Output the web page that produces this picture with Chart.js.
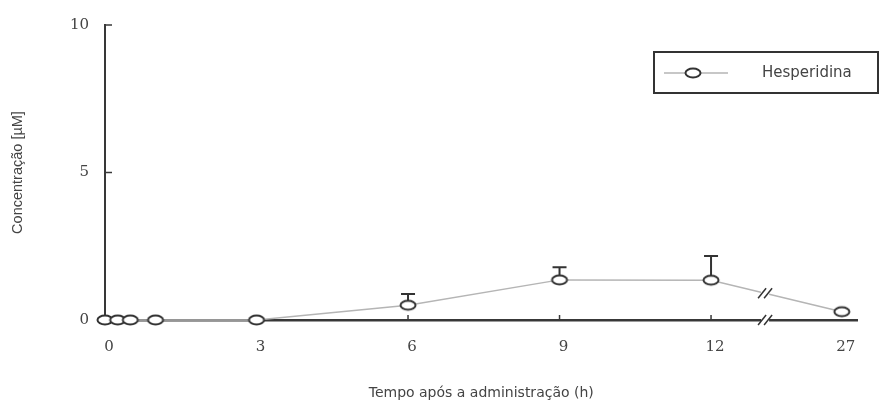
<!DOCTYPE html>
<html>
<head>
<meta charset="utf-8">
<script src="https://cdn.jsdelivr.net/npm/chart.js@4.4.1/dist/chart.umd.min.js"></script>
<style>
  html, body { margin: 0; padding: 0; background: #fff; }
  #wrap { width: 881px; height: 412px; }
</style>
</head>
<body>
<div id="wrap"><canvas id="hespChart"></canvas></div>
<script>
const timesH = [0, 0.25, 0.5, 1, 3, 6, 9, 12, 27];
const concentration = [0, 0, 0, 0, 0, 0.5, 1.36, 1.35, 0.28];
const errorUp = [0, 0, 0, 0, 0, 0.38, 0.43, 0.82, 0];
const xTickHours = [0, 3, 6, 9, 12, 27];
const yTicks = [0, 5, 10];
const seriesLabel = "Hesperidina";

// broken x axis: everything after 12 h is squeezed in
const breakFrom = 12, breakTo = 27, breakToPos = 14.59, breakMarkPos = 13.07;
function axisPos(h) {
  if (h <= breakFrom) return h;
  return breakFrom + (h - breakFrom) * (breakToPos - breakFrom) / (breakTo - breakFrom);
}

const axisColor = "#383838";
const textColor = "#444";

function ellipseMarker() {
  const c = document.createElement("canvas");
  c.width = 20;
  c.height = 14;
  const g = c.getContext("2d");
  g.beginPath();
  g.ellipse(10, 7, 7.5, 4.5, 0, 0, Math.PI * 2);
  g.fillStyle = "#fff";
  g.fill();
  g.lineWidth = 2;
  g.strokeStyle = "#333";
  g.stroke();
  return c;
}
const marker = ellipseMarker();

function slashes(ctx, x, y) {
  ctx.save();
  ctx.fillStyle = "#fff";
  ctx.fillRect(x - 4, y - 3, 8, 6);
  ctx.strokeStyle = "#333";
  ctx.lineWidth = 1.5;
  [-3, 3].forEach((dx) => {
    ctx.beginPath();
    ctx.moveTo(x + dx - 4, y + 5);
    ctx.lineTo(x + dx + 4, y - 5);
    ctx.stroke();
  });
  ctx.restore();
}

const extras = {
  id: "extras",
  beforeDatasetsDraw(chart) {
    const { ctx, chartArea, scales } = chart;
    const meta = chart.getDatasetMeta(0);
    ctx.save();
    // inward tick marks
    ctx.strokeStyle = axisColor;
    ctx.lineWidth = 1.5;
    yTicks.slice(1).forEach((v) => {
      const y = scales.y.getPixelForValue(v);
      ctx.beginPath();
      ctx.moveTo(chartArea.left, y);
      ctx.lineTo(chartArea.left + 7, y);
      ctx.stroke();
    });
    xTickHours.slice(1, -1).forEach((h) => {
      const x = scales.x.getPixelForValue(axisPos(h));
      ctx.beginPath();
      ctx.moveTo(x, chartArea.bottom);
      ctx.lineTo(x, chartArea.bottom - 5);
      ctx.stroke();
    });
    // upper error bars
    ctx.strokeStyle = "#333";
    ctx.lineWidth = 2;
    meta.data.forEach((pt, i) => {
      if (!errorUp[i]) return;
      const top = scales.y.getPixelForValue(concentration[i] + errorUp[i]);
      ctx.beginPath();
      ctx.moveTo(pt.x, pt.y);
      ctx.lineTo(pt.x, top);
      ctx.moveTo(pt.x - 7, top);
      ctx.lineTo(pt.x + 7, top);
      ctx.stroke();
    });
    ctx.restore();
  },
  afterDatasetsDraw(chart) {
    const { ctx, chartArea, scales } = chart;
    const xb = scales.x.getPixelForValue(breakMarkPos);
    slashes(ctx, xb, chartArea.bottom);
    // break on the data line, between the 12 h and 27 h points
    const meta = chart.getDatasetMeta(0);
    const a = meta.data[timesH.indexOf(breakFrom)];
    const b = meta.data[timesH.indexOf(breakTo)];
    const t = (xb - a.x) / (b.x - a.x);
    slashes(ctx, xb, a.y + (b.y - a.y) * t);
  },
  afterDraw(chart) {
    const { ctx } = chart;
    const ds = chart.data.datasets[0];
    ctx.save();
    ctx.strokeStyle = "#333";
    ctx.lineWidth = 2;
    ctx.strokeRect(654, 52, 224, 41);
    ctx.strokeStyle = ds.borderColor;
    ctx.lineWidth = 1.5;
    ctx.beginPath();
    ctx.moveTo(664, 73);
    ctx.lineTo(728, 73);
    ctx.stroke();
    ctx.drawImage(marker, 693 - marker.width / 2, 73 - marker.height / 2);
    ctx.fillStyle = textColor;
    ctx.font = "15px 'DejaVu Sans'";
    ctx.textBaseline = "middle";
    ctx.fillText(ds.label, 762, 73);
    ctx.restore();
  },
};

const ctx = document.getElementById("hespChart").getContext("2d");
const hespChart = new Chart(ctx, {
  type: "line",
  data: {
    datasets: [
      {
        label: seriesLabel,
        data: timesH.map((h, i) => ({ x: axisPos(h), y: concentration[i] })),
        borderColor: "#b5b5b5",
        borderWidth: 1.5,
        pointStyle: marker,
        pointRadius: 6,
        tension: 0,
        clip: false,
      },
    ],
  },
  options: {
    responsive: true,
    maintainAspectRatio: false,
    animation: false,
    layout: { padding: { top: 20, right: 23.5, left: 0, bottom: 0 } },
    scales: {
      x: {
        type: "linear",
        min: 0,
        max: 14.9,
        grid: { display: false, drawTicks: false },
        border: { display: true, color: axisColor, width: 2.5 },
        afterBuildTicks: (s) => {
          s.ticks = xTickHours.map((h) => ({ value: axisPos(h) }));
        },
        afterFit: (s) => {
          s.height = 92;
        },
        ticks: {
          autoSkip: false,
          maxRotation: 0,
          padding: 18,
          labelOffset: 4,
          color: textColor,
          font: { family: "'DejaVu Serif'", size: 15 },
          callback: (v, i) => String(xTickHours[i]),
        },
        title: {
          display: true,
          text: "Tempo após a administração (h)",
          color: textColor,
          font: { family: "'DejaVu Sans'", size: 14 },
          padding: { top: 0, bottom: 10 },
        },
      },
      y: {
        min: 0,
        max: 10,
        grid: { display: false, drawTicks: false },
        border: { display: true, color: axisColor, width: 2 },
        afterBuildTicks: (s) => {
          s.ticks = yTicks.map((v) => ({ value: v }));
        },
        afterFit: (s) => {
          s.width = 105;
        },
        ticks: {
          padding: 16,
          color: textColor,
          font: { family: "'DejaVu Serif'", size: 15 },
        },
        title: {
          display: true,
          text: "Concentração [µM]",
          color: textColor,
          font: { family: "'Liberation Sans'", size: 14.5 },
          padding: { top: 9, bottom: 0 },
        },
      },
    },
    plugins: {
      legend: { display: false },
      tooltip: { enabled: false },
    },
  },
  plugins: [extras],
});
</script>
</body>
</html>
